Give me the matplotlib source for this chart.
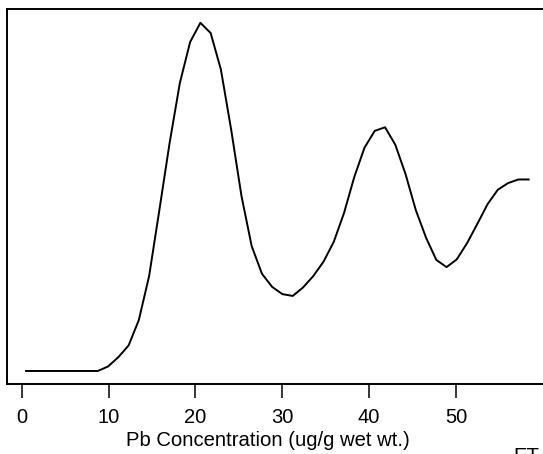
import matplotlib.pyplot as plt
import numpy as np

plt.rcParams['font.family'] = ['Liberation Sans', 'DejaVu Sans']

x_start = 0.5
x_step = 1.181
density = [0, 0, 0, 0, 0, 0, 0, 0,
           0.00075, 0.0023, 0.00425, 0.0085, 0.0158, 0.0268, 0.038, 0.048,
           0.0548, 0.058, 0.0563, 0.0502, 0.0402, 0.0292, 0.0208, 0.0162,
           0.014, 0.0128, 0.0125, 0.0139, 0.0158, 0.0182, 0.0215, 0.0263,
           0.0323, 0.0372, 0.04, 0.0406, 0.0377, 0.0328, 0.0268, 0.0222,
           0.0185, 0.0173, 0.0186, 0.0213, 0.0245, 0.0278, 0.0302, 0.0313,
           0.0319, 0.0319]
xticks = [0, 10, 20, 30, 40, 50]
xlabel = 'Pb Concentration (ug/g wet wt.)'

conc = x_start + x_step * np.arange(len(density))

fig = plt.figure(figsize=(5.43, 4.54), dpi=100)
ax = fig.add_axes([7 / 543, 70 / 454, 541 / 543, 375 / 454])

ax.plot(conc, density, color='black', lw=1.4)

ax.set_xlim(-1.69, 60.6)
ax.set_ylim(-0.00217, 0.0603)
ax.set_yticks([])
ax.set_xticks(xticks)
ax.tick_params(axis='x', direction='out', length=10, width=1.1,
               labelsize=14.5, pad=7)
for s in ax.spines.values():
    s.set_linewidth(1.4)

fig.text(267.5 / 543, 8 / 454, xlabel, ha='center', va='baseline', fontsize=14.6)
fig.text(513 / 543, 7 / 454, 'ET', ha='left', va='top', fontsize=14.6)

fig.savefig('out.png', dpi=100)
